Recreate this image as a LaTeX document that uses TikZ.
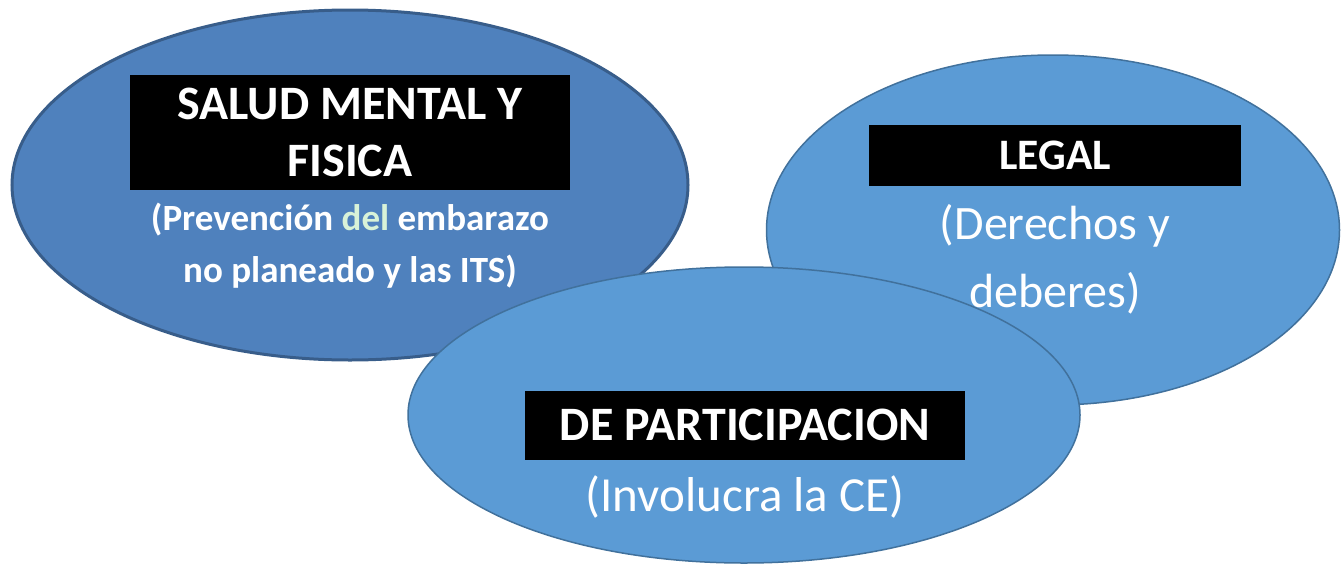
\documentclass[tikz,border=0pt]{standalone}
\usepackage{fontspec}
\setmainfont{Carlito}
\usetikzlibrary{shapes.geometric}
\definecolor{darkfill}{HTML}{4F81BD}
\definecolor{darkline}{HTML}{385D8A}
\definecolor{lightfill}{HTML}{5B9BD5}
\definecolor{lightline}{HTML}{41719C}
\definecolor{delgreen}{HTML}{D8F2D8}
\tikzset{
  bubble/.style={ellipse, fill=lightfill, draw=lightline, line width=1.5pt, inner sep=0pt},
  darkbubble/.style={bubble, fill=darkfill, draw=darkline, line width=3pt},
  headbox/.style={fill=black, text=white, align=center, inner sep=0pt},
  subtext/.style={text=white, align=center, inner sep=0pt}
}

\begin{document}
\begin{tikzpicture}[x=1pt,y=-1pt]
                \useasboundingbox (0,0) rectangle (1343,565);

                % the three bubbles, bottom one last so it lies on top
                \node[darkbubble, minimum width=676, minimum height=350] (salud) at (350,185) {};
                \node[bubble, minimum width=573, minimum height=350] (legal) at (1053,230) {};
                \node[bubble, minimum width=672, minimum height=296] (partic) at (744,415) {};

                % left bubble, titles
                \node[headbox, minimum width=440, minimum height=115, font=\bfseries\fontsize{48}{57}\selectfont] (saludT) at (350,132) {SALUD MENTAL Y\\FISICA};
                \node[subtext, font=\bfseries\fontsize{37}{52}\selectfont] (saludS) at (350,246) {(Prevención \textcolor{delgreen}{del} embarazo\\no planeado y las ITS)};

                % right bubble
                \node[headbox, minimum width=372, minimum height=61, font=\bfseries\fontsize{43.5}{50}\selectfont] (legalT) at (1055,155) {LEGAL};
                \node[subtext, font=\fontsize{48}{68}\selectfont] (legalS) at (1055,259) {(Derechos y\\deberes)};

                % bottom bubble
                \node[headbox, minimum width=440, minimum height=69, font=\bfseries\fontsize{48}{54}\selectfont] (particT) at (745,425) {DE PARTICIPACION};
                \node[subtext, font=\fontsize{49}{54}\selectfont] (particS) at (745,497) {(Involucra la CE)};
\end{tikzpicture}
\end{document}
